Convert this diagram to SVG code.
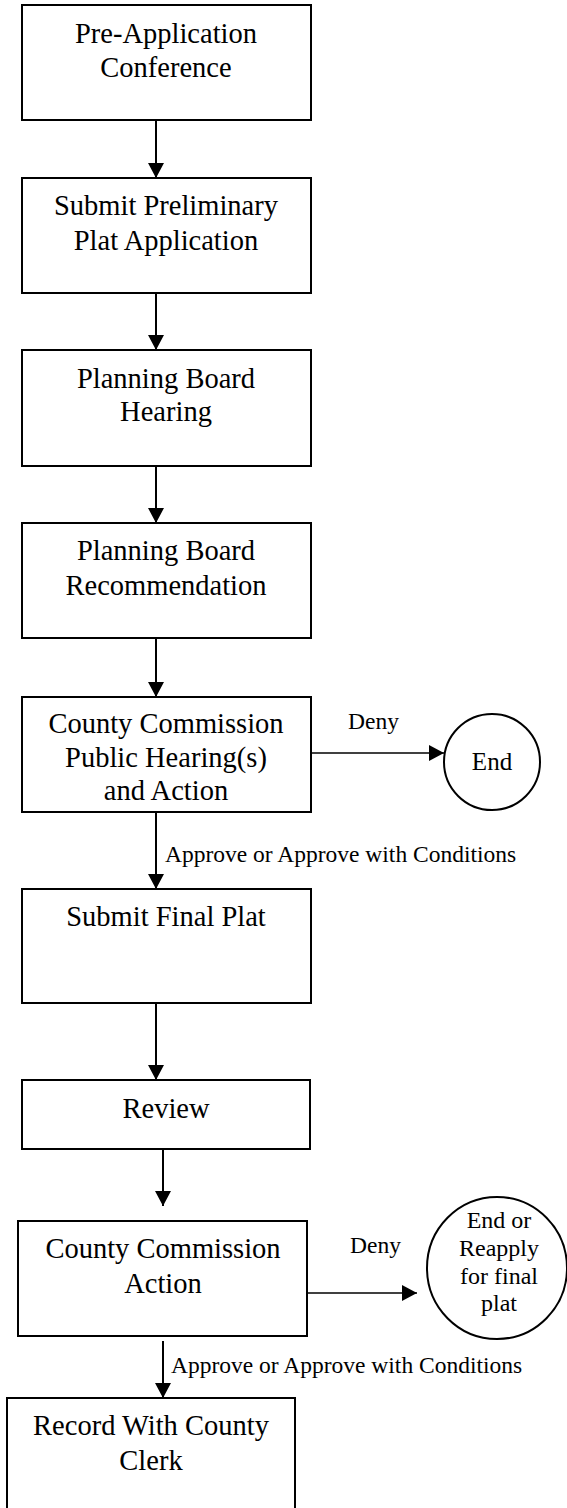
<svg xmlns="http://www.w3.org/2000/svg" width="567" height="1508" viewBox="0 0 567 1508">
  <style>
    .box { fill: #ffffff; stroke: #000000; stroke-width: 2; }
    .circ { fill: #ffffff; stroke: #000000; stroke-width: 2; }
    .t { font-family: "Liberation Serif", "Times New Roman", serif; font-size: 28.5px; fill: #000000; text-anchor: middle; }
    .c { font-family: "Liberation Serif", "Times New Roman", serif; font-size: 24px; fill: #000000; text-anchor: middle; }
    .lbl { font-family: "Liberation Serif", "Times New Roman", serif; font-size: 23.5px; fill: #000000; }
    .v { stroke: #000000; stroke-width: 2; fill: none; marker-end: url(#ah); }
    .h { stroke: #000000; stroke-width: 1.5; fill: none; marker-end: url(#ah); }
  </style>
  <defs>
    <marker id="ah" markerUnits="userSpaceOnUse" markerWidth="16" markerHeight="16" refX="15" refY="8" orient="auto">
      <path d="M0,0 L15,8 L0,16 Z" fill="#000000"/>
    </marker>
  </defs>
  <rect width="567" height="1508" fill="#ffffff"/>

  <g id="connectors">
    <line class="v" x1="156" y1="120" x2="156" y2="178"/>
    <line class="v" x1="156" y1="293" x2="156" y2="350"/>
    <line class="v" x1="156" y1="466" x2="156" y2="523"/>
    <line class="v" x1="156" y1="638" x2="156" y2="697"/>
    <line class="v" x1="156" y1="812" x2="156" y2="889"/>
    <line class="v" x1="156" y1="1003" x2="156" y2="1080"/>
    <line class="v" x1="163" y1="1149" x2="163" y2="1206"/>
    <line class="v" x1="163" y1="1341" x2="163" y2="1398"/>
    <line class="h" x1="311" y1="753" x2="444" y2="753"/>
    <line class="h" x1="307" y1="1293" x2="417" y2="1293"/>
    <text class="lbl" x="348" y="729">Deny</text>
    <text class="lbl" x="165" y="862">Approve or Approve with Conditions</text>
    <text class="lbl" x="350" y="1253">Deny</text>
    <text class="lbl" x="171" y="1373">Approve or Approve with Conditions</text>
  </g>

  <g id="pre-application">
    <rect class="box" x="22" y="5" width="289" height="115"/>
    <text class="t" x="166" y="43">Pre-Application</text>
    <text class="t" x="166" y="77">Conference</text>
  </g>
  <g id="submit-preliminary">
    <rect class="box" x="22" y="178" width="289" height="115"/>
    <text class="t" x="166" y="215">Submit Preliminary</text>
    <text class="t" x="166" y="250">Plat Application</text>
  </g>
  <g id="pb-hearing">
    <rect class="box" x="22" y="350" width="289" height="116"/>
    <text class="t" x="166" y="388">Planning Board</text>
    <text class="t" x="166" y="421">Hearing</text>
  </g>
  <g id="pb-recommendation">
    <rect class="box" x="22" y="523" width="289" height="115"/>
    <text class="t" x="166" y="560">Planning Board</text>
    <text class="t" x="166" y="595">Recommendation</text>
  </g>
  <g id="cc-hearing">
    <rect class="box" x="22" y="697" width="289" height="115"/>
    <text class="t" x="166" y="733">County Commission</text>
    <text class="t" x="166" y="767">Public Hearing(s)</text>
    <text class="t" x="166" y="800">and Action</text>
  </g>
  <g id="end1">
    <circle class="circ" cx="492" cy="762" r="48"/>
    <text class="c" x="492" y="770" style="font-size:25px">End</text>
  </g>
  <g id="submit-final">
    <rect class="box" x="22" y="889" width="289" height="114"/>
    <text class="t" x="166" y="926">Submit Final Plat</text>
  </g>
  <g id="review">
    <rect class="box" x="22" y="1080" width="288" height="69"/>
    <text class="t" x="166" y="1118">Review</text>
  </g>
  <g id="cc-action">
    <rect class="box" x="18" y="1221" width="289" height="115"/>
    <text class="t" x="163" y="1258">County Commission</text>
    <text class="t" x="163" y="1293">Action</text>
  </g>
  <g id="end2">
    <ellipse class="circ" cx="497" cy="1268" rx="70" ry="71"/>
    <text class="c" x="499" y="1228">End or</text>
    <text class="c" x="499" y="1256">Reapply</text>
    <text class="c" x="499" y="1284">for final</text>
    <text class="c" x="499" y="1311">plat</text>
  </g>
  <g id="record">
    <rect class="box" x="7" y="1398" width="288" height="114"/>
    <text class="t" x="151" y="1435">Record With County</text>
    <text class="t" x="151" y="1470">Clerk</text>
  </g>
</svg>
